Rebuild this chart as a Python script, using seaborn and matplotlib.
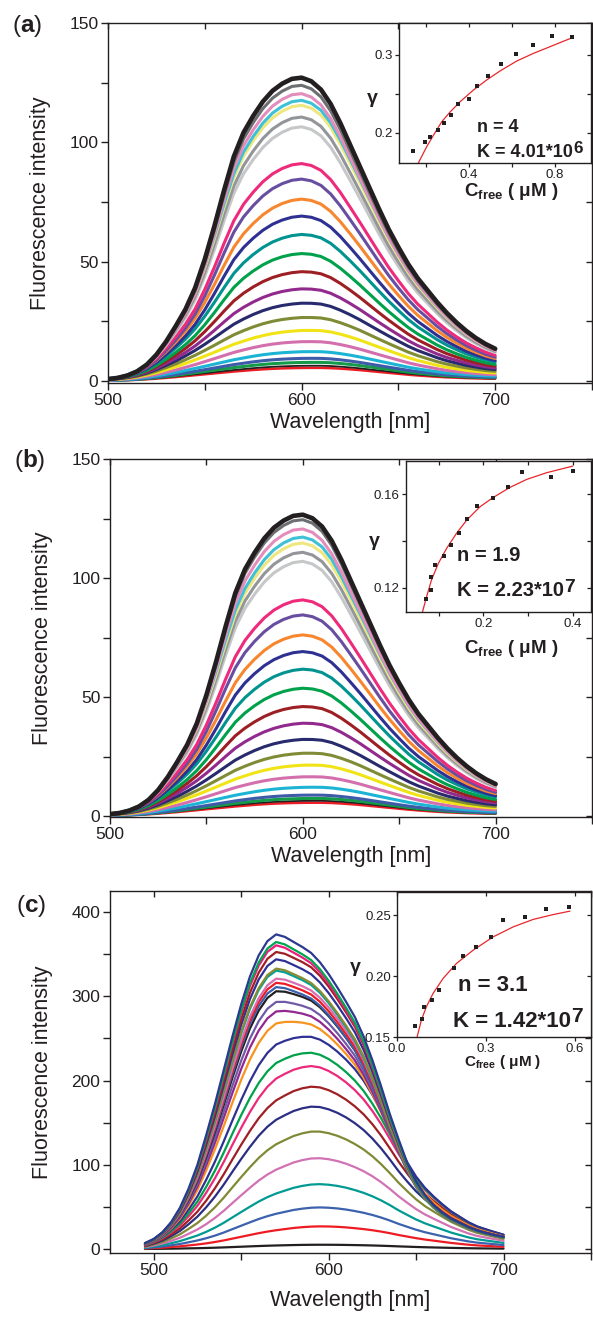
import numpy as np
import matplotlib
matplotlib.use("Agg")
import matplotlib.pyplot as plt
import seaborn as sns
from matplotlib.ticker import MultipleLocator, NullFormatter, FormatStrFormatter

sns.set_theme(style="ticks")
plt.rcParams["font.family"] = ["Liberation Sans", "DejaVu Sans"]
plt.rcParams["mathtext.fontset"] = "custom"
plt.rcParams["mathtext.rm"] = "Liberation Sans"
plt.rcParams["mathtext.bf"] = "Liberation Sans:bold"
plt.rcParams["mathtext.it"] = "Liberation Sans:italic"

INK = "#231f20"
FIT_RED = "#e8262b"

# ---------------- emission spectra, panels (a) and (b) ----------------
wl_ab = np.arange(500, 701, 5)
# strongest spectrum (black), intensity units
top_ab = [0.8, 1.3, 2.3, 4.0, 6.8, 11, 16.5, 23, 30, 39, 51, 65, 80, 94, 104,
          111, 117, 121.5, 124.5, 126.5, 127, 125.5, 122, 116, 108, 99, 90, 81,
          72, 63.5, 56, 49, 43, 38, 33, 28.5, 24.5, 21, 18, 15.5, 13.5]
# weakest spectra, normalised profile (slightly red-shifted and broader)
low_ab = [0.03, 0.04, 0.06, 0.09, 0.13, 0.18, 0.24, 0.30, 0.37, 0.44, 0.51,
          0.58, 0.65, 0.72, 0.78, 0.84, 0.89, 0.93, 0.96, 0.98, 0.995, 1.0, 1.0,
          0.98, 0.94, 0.89, 0.83, 0.76, 0.69, 0.62, 0.55, 0.48, 0.42, 0.37, 0.32,
          0.28, 0.25, 0.22, 0.20, 0.18, 0.17]

peaks_a = [127.1, 123.9, 120.4, 117.6, 115.5, 110.6, 106.5, 91.1, 84.6, 76.2,
           69.1, 61.4, 53.4, 45.8, 38.6, 32.6, 26.6, 21.2, 16.5, 12.3, 9.5, 7.8,
           6.4, 5.5]
peaks_b = [126.6, 124.5, 120.6, 117.2, 114.7, 110.8, 107.0, 90.8, 84.5, 76.1,
           69.1, 61.7, 53.7, 46.0, 39.0, 32.2, 26.4, 21.4, 16.5, 12.1, 8.8, 7.4,
           6.4, 5.6]
peak_nm_ab = [597, 597, 597, 598, 598, 598, 598, 599, 599, 600, 600, 601, 601,
              602, 603, 604, 605, 606, 606, 607, 607, 608, 608, 608]
colors_ab = ["#231f20", "#6d6e71", "#e48dbd", "#3ec1d6", "#efe77e", "#939598",
             "#c6c7c8", "#ee2a7b", "#674ea0", "#f7862f", "#2e3192", "#009390",
             "#00a14b", "#9d1f23", "#922a8e", "#272a6c", "#808b36", "#f1e416",
             "#d46fae", "#1cb4d4", "#3d5ba8", "#149a48", "#231f20", "#ec1c24"]
widths_ab = [3.3] + [2.2] * 21 + [1.3, 1.8]

# ---------------- emission spectra, panel (c) ----------------
wl_c = np.arange(495, 701, 5)
top_c = [7, 12, 20, 32, 49, 72, 100, 135, 172, 212, 252, 290, 323, 348, 365,
         373, 370, 364, 358, 351, 340, 326, 310, 293, 275, 252, 224, 193, 160,
         130, 102, 80, 64, 52, 43, 36, 31, 26, 22, 19, 16.5, 14.5]
low_c = [0.02, 0.04, 0.06, 0.09, 0.12, 0.16, 0.20, 0.25, 0.31, 0.38, 0.46,
         0.54, 0.62, 0.70, 0.77, 0.83, 0.88, 0.93, 0.965, 0.99, 1.0, 0.995,
         0.98, 0.955, 0.92, 0.88, 0.83, 0.77, 0.70, 0.62, 0.55, 0.48, 0.42,
         0.37, 0.32, 0.27, 0.23, 0.19, 0.16, 0.14, 0.12, 0.10]
peaks_c = [373.5, 364.5, 360.5, 352.6, 343.9, 332.9, 330.5, 321, 316, 310.9,
           306, 293.4, 282.7, 269.7, 251.9, 233, 217.2, 192.7, 169, 139.4, 107.8,
           77, 49.4, 26.9, 5.1]
peak_nm_c = [569, 569, 569, 570, 570, 570, 570, 571, 571, 571, 572, 573, 574,
             576, 581, 583, 585, 587, 588, 590, 592, 594, 595, 597, 600]
colors_c = ["#2b3990", "#00a651", "#ec1c7b", "#9e1f24", "#2e3192", "#8a8c32",
            "#00a09a", "#d66eb0", "#ed1c24", "#3a60ad", "#231f20", "#7059a6",
            "#92278f", "#f7941d", "#2e3192", "#00a14b", "#ec2a7b", "#9e1f24",
            "#2b2e83", "#808a35", "#d272b4", "#009a93", "#3c61ad", "#ed1c24",
            "#231f20"]

# ---------------- binding isotherms (insets) ----------------
cfree_a = [0.141, 0.197, 0.22, 0.254, 0.284, 0.318, 0.347, 0.40, 0.436, 0.49,
           0.55, 0.62, 0.698, 0.785, 0.88]
gamma_a = [0.177, 0.189, 0.195, 0.204, 0.213, 0.223, 0.237, 0.244, 0.260,
           0.2735, 0.288, 0.301, 0.3124, 0.3244, 0.3235]
fitx_a = [0.164, 0.203, 0.234, 0.273, 0.312, 0.358, 0.42, 0.482, 0.544, 0.622,
          0.699, 0.792, 0.885]
fity_a = [0.1615, 0.1825, 0.197, 0.2145, 0.227, 0.240, 0.255, 0.268, 0.2795,
          0.2923, 0.302, 0.3124, 0.3227]

cfree_b = [0.072, 0.084, 0.084, 0.093, 0.112, 0.128, 0.145, 0.163, 0.185,
           0.2224, 0.2546, 0.286, 0.3516, 0.4015]
gamma_b = [0.1153, 0.119, 0.1247, 0.1296, 0.1336, 0.1384, 0.1436, 0.1493,
           0.155, 0.1586, 0.1633, 0.1694, 0.1676, 0.170]
fitx_b = [0.064, 0.073, 0.084, 0.0993, 0.118, 0.140, 0.163, 0.1926, 0.2224,
          0.2598, 0.297, 0.342, 0.40]
fity_b = [0.1097, 0.1161, 0.1233, 0.1304, 0.1369, 0.1433, 0.149, 0.1547,
          0.1587, 0.163, 0.1664, 0.1693, 0.1721]

cfree_c = [0.062, 0.0857, 0.090, 0.117, 0.141, 0.1915, 0.224, 0.268, 0.3166,
           0.358, 0.4325, 0.501, 0.581]
gamma_c = [0.1593, 0.165, 0.1746, 0.1803, 0.1885, 0.2063, 0.2161, 0.224,
           0.2322, 0.2464, 0.2486, 0.2552, 0.2563]
fitx_c = [0.0677, 0.0823, 0.0992, 0.1217, 0.1555, 0.2006, 0.2568, 0.3243,
          0.392, 0.459, 0.527, 0.583]
fity_c = [0.150, 0.164, 0.1749, 0.1858, 0.1981, 0.2104, 0.2213, 0.2322,
          0.2404, 0.2465, 0.2505, 0.2533]

W, H = 593, 1317
fig = plt.figure(figsize=(W / 100, H / 100), dpi=100)
fig.patch.set_facecolor("white")


def box(l, t, r, b):
    """axes rectangle from pixel edges"""
    return [l / W, 1 - b / H, (r - l) / W, (b - t) / H]


def frame(ax, lw=1.0, tick_len=5, tick_w=1.0, labelsize=12.5):
    ax.set_facecolor("white")
    for sp in ax.spines.values():
        sp.set_visible(True)
        sp.set_linewidth(lw)
        sp.set_color(INK)
    ax.tick_params(which="both", direction="out", length=tick_len, width=tick_w,
                   colors=INK, labelsize=labelsize, pad=2,
                   top=False, right=False)
    ax.grid(False)


def mirror_ticks(ax, xmaj, xmin, ymaj, ymin, length=4, width=1.0):
    top = ax.secondary_xaxis("top")
    top.xaxis.set_major_locator(MultipleLocator(xmaj))
    if xmin:
        top.xaxis.set_minor_locator(MultipleLocator(xmin))
    top.xaxis.set_major_formatter(NullFormatter())
    top.tick_params(which="both", direction="in", length=length, width=width,
                    colors=INK)
    top.spines["top"].set_linewidth(0)
    right = ax.secondary_yaxis("right")
    right.yaxis.set_major_locator(MultipleLocator(ymaj))
    if ymin:
        right.yaxis.set_minor_locator(MultipleLocator(ymin))
    right.yaxis.set_major_formatter(NullFormatter())
    right.tick_params(which="both", direction="in", length=length, width=width,
                      colors=INK)
    right.spines["right"].set_linewidth(0)


def spectra(ax, wl, top, low, peaks, peak_nm, colors, widths, nm_hi, nm_lo):
    top_norm = np.asarray(top) / max(top)
    low = np.asarray(low)
    for i in range(len(peaks) - 1, -1, -1):
        w = np.clip((peak_nm[i] - nm_hi) / (nm_lo - nm_hi), 0, 1)
        profile = (1 - w) * top_norm + w * low
        y = peaks[i] * profile / profile.max()
        sns.lineplot(x=wl, y=y, ax=ax, color=colors[i], linewidth=widths[i],
                     estimator=None, sort=False, legend=False)


def main_axes(ax, xlim, ylim, ymaj, ymin, xpad):
    frame(ax)
    ax.set_xlim(*xlim)
    ax.set_ylim(*ylim)
    ax.xaxis.set_major_locator(MultipleLocator(100))
    ax.xaxis.set_minor_locator(MultipleLocator(50))
    ax.yaxis.set_major_locator(MultipleLocator(ymaj))
    ax.yaxis.set_minor_locator(MultipleLocator(ymin))
    ax.set_xlabel("Wavelength [nm]", fontsize=15.5, color=INK, labelpad=xpad)
    ax.set_ylabel("Fluorescence intensity", fontsize=15.5, color=INK,
                  labelpad=13)
    mirror_ticks(ax, 100, 50, ymaj, ymin)


def inset(rect, x, y, fx, fy, xlim, ylim, xmaj, xmin, ymaj, ymin, xfmt, yfmt,
          tsize, n_txt, k_base, k_exp, n_pos, k_pos, gam_pos, cl_pos, cl_size):
    ax = fig.add_axes(rect)
    frame(ax, lw=1.0, tick_len=3, tick_w=0.9, labelsize=9.5)
    ax.tick_params(which="both", pad=1.5)
    sns.lineplot(x=fx, y=fy, ax=ax, color=FIT_RED, linewidth=0.9,
                 estimator=None, sort=False, legend=False)
    sns.scatterplot(x=x, y=y, ax=ax, marker="s", s=8, color=INK,
                    linewidth=0, legend=False, zorder=3)
    ax.set_xlim(*xlim)
    ax.set_ylim(*ylim)
    ax.xaxis.set_major_locator(MultipleLocator(xmaj))
    if xmin:
        ax.xaxis.set_minor_locator(MultipleLocator(xmin))
    ax.yaxis.set_major_locator(MultipleLocator(ymaj))
    if ymin:
        ax.yaxis.set_minor_locator(MultipleLocator(ymin))
    ax.xaxis.set_major_formatter(FormatStrFormatter(xfmt))
    ax.yaxis.set_major_formatter(FormatStrFormatter(yfmt))
    ax.set_xlabel("")
    ax.set_ylabel("")
    mirror_ticks(ax, xmaj, xmin, ymaj, ymin, length=3, width=0.9)
    ax.text(*n_pos, n_txt, transform=ax.transAxes, fontsize=tsize,
            fontweight="bold", color=INK, ha="left", va="baseline")
    t = ax.text(*k_pos, k_base, transform=ax.transAxes, fontsize=tsize,
                fontweight="bold", color=INK, ha="left", va="baseline")
    ax.annotate(k_exp, xy=(1, 0), xycoords=t, xytext=(0.5, tsize * 0.42),
                textcoords="offset points", fontsize=tsize * 0.95,
                fontweight="bold", color=INK, ha="left", va="baseline")
    ax.text(*gam_pos, "γ", transform=ax.transAxes, fontsize=14,
            fontweight="bold", color=INK, ha="center", va="center")
    ax.text(*cl_pos, r"$\mathbf{C_{free}}$ ( μM )", transform=ax.transAxes,
            fontsize=cl_size, fontweight="bold", color=INK, ha="center",
            va="center")
    return ax


def panel_tag(letter, x, y):
    fig.text(x / W, 1 - y / H, r"($\mathbf{%s}$)" % letter, fontsize=17.5,
             color=INK, ha="left", va="center")


# ---- panel (a)
ax_a = fig.add_axes(box(108, 23, 592, 383))
spectra(ax_a, wl_ab, top_ab, low_ab, peaks_a, peak_nm_ab, colors_ab, widths_ab,
        597, 608)
main_axes(ax_a, (500, 750), (-0.84, 150), 50, 25, 3)
inset(box(399, 23, 591, 163), cfree_a, gamma_a, fitx_a, fity_a,
      (0.074, 0.967), (0.1615, 0.341), 0.4, 0.2, 0.1, 0.05, "%.1f", "%.1f",
      13, "n = 4", "K = 4.01*10", "6", (0.406, 0.224), (0.406, 0.043),
      (-0.14, 0.464), (0.583, -0.20), 13.5)
panel_tag("a", 12, 26)

# ---- panel (b)
ax_b = fig.add_axes(box(110, 459, 592, 817))
spectra(ax_b, wl_ab, top_ab, low_ab, peaks_b, peak_nm_ab, colors_ab, widths_ab,
        597, 608)
main_axes(ax_b, (500, 750), (-0.4, 150), 50, 25, 3)
inset(box(406, 461, 591, 612), cfree_b, gamma_b, fitx_b, fity_b,
      (0.027, 0.441), (0.1096, 0.1743), 0.2, 0.1, 0.04, 0.02, "%.1f", "%.2f",
      14.5, "n = 1.9", "K = 2.23*10", "7", (0.274, 0.34), (0.274, 0.106),
      (-0.173, 0.47), (0.568, -0.245), 13.5)
panel_tag("b", 14, 460)

# ---- panel (c)
ax_c = fig.add_axes(box(110, 891, 591, 1253))
spectra(ax_c, wl_c, top_c, low_c, peaks_c, peak_nm_c, colors_c,
        [1.6] * len(peaks_c), 569, 597)
main_axes(ax_c, (475, 750), (-4.7, 425), 100, 50, 9)
inset(box(397, 892, 591, 1037), cfree_c, gamma_c, fitx_c, fity_c,
      (0.0, 0.654), (0.15, 0.269), 0.3, None, 0.05, None, "%.1f", "%.2f",
      16, "n = 3.1", "K = 1.42*10", "7", (0.316, 0.319), (0.287, 0.071),
      (-0.216, 0.476), (0.546, -0.175), 11)
panel_tag("c", 16, 906)

fig.savefig("out.png", dpi=100, facecolor="white")
